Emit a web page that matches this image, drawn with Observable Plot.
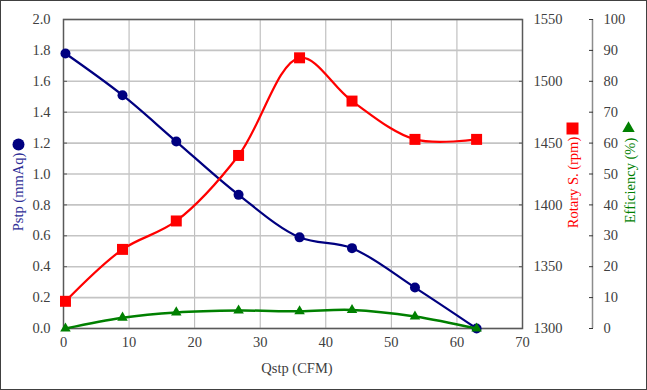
<!DOCTYPE html>
<html><head><meta charset="utf-8">
<script src="https://cdn.jsdelivr.net/npm/d3@7"></script>
<script src="https://cdn.jsdelivr.net/npm/@observablehq/plot@0.6"></script>
<style>
html,body{margin:0;padding:0;background:#fff;}
#chart svg{display:block;outline:1.5px solid #404040;outline-offset:-1.5px;}
#chart svg text{font-family:"Liberation Serif","DejaVu Serif",serif;}
</style></head><body><div id="chart"></div>
<script>
const qstp = [0.3, 9.0, 17.2, 26.7, 36.0, 44.0, 53.6, 63.0];
const pstp = [1.78, 1.51, 1.21, 0.865, 0.59, 0.52, 0.265, 0.0];
const rotary = [1322, 1364, 1387, 1440, 1519, 1484, 1453, 1453];
const efficiency = [0, 3.5, 5.2, 5.8, 5.6, 6.0, 3.9, 0];

const xTicks = [0, 10, 20, 30, 40, 50, 60, 70];
const pstpTicks = [0, 0.2, 0.4, 0.6, 0.8, 1.0, 1.2, 1.4, 1.6, 1.8, 2.0];
const rotaryTicks = [1300, 1350, 1400, 1450, 1500, 1550];
const effTicks = [0, 10, 20, 30, 40, 50, 60, 70, 80, 90, 100];

const xTitle = "Qstp (CFM)";
const pTitle = "Pstp (mmAq)";
const rTitle = "Rotary S. (rpm)";
const eTitle = "Efficiency (%)";

// map secondary axes onto the primary y domain [0, 2]
const rpmToY = v => (v - 1300) / 125;
const effToY = v => v / 50;

const rows = qstp.map((q, i) => ({q, p: pstp[i], r: rpmToY(rotary[i]), e: effToY(efficiency[i])}));
const xMax = d3.max(xTicks);
const FF = '"Liberation Serif", "DejaVu Serif", serif';

const plot = Plot.plot({
  width: 647, height: 390,
  marginLeft: 63, marginRight: 125, marginTop: 19, marginBottom: 62,
  style: {fontFamily: FF, fontSize: "14.5px", color: "#404040", background: "#fff"},
  x: {domain: [0, 70], axis: null, label: null},
  y: {domain: [0, 2], axis: null, label: null},
  marks: [
    Plot.gridX(xTicks, {stroke: "#b4b4b4", strokeOpacity: 1, strokeWidth: 1}),
    Plot.gridY(pstpTicks, {stroke: "#c4c4c4", strokeOpacity: 1, strokeWidth: 1.6}),
    Plot.frame({stroke: "#595959", strokeWidth: 1.5}),
    // left axis
    Plot.axisY(pstpTicks, {anchor: "left", label: null, tickSize: 0, tickPadding: 13, fontFamily: FF, tickFormat: d3.format(".1f")}),
    Plot.axisY(pstpTicks, {anchor: "left", label: null, tickSize: 4, dx: 4, fill: "none", stroke: "#595959"}),
    // right rpm axis
    Plot.axisY(rotaryTicks.map(rpmToY), {anchor: "right", label: null, tickSize: 0, tickPadding: 11, fontFamily: FF, tickFormat: d => String(Math.round(d * 125 + 1300))}),
    Plot.axisY(rotaryTicks.map(rpmToY), {anchor: "right", label: null, tickSize: 4, dx: -4, fill: "none", stroke: "#595959"}),
    // efficiency axis
    Plot.ruleX([xMax], {dx: 70, y1: 0, y2: 2, stroke: "#8c8c8c", strokeWidth: 1.5}),
    Plot.axisY(effTicks.map(effToY), {anchor: "right", label: null, dx: 66, tickSize: 4, tickPadding: 11, stroke: "#333", fontFamily: FF, tickFormat: d => String(Math.round(d * 50))}),
    // x axis
    Plot.axisX(xTicks, {anchor: "bottom", label: null, tickSize: 0, tickPadding: 8, fontFamily: FF, tickFormat: d => String(d)}),
    Plot.text([xTitle], {frameAnchor: "bottom", textAnchor: "middle", lineAnchor: "middle", dx: 4, dy: 40, fill: "#404040", fontFamily: FF}),
    // titles
    Plot.text([pTitle], {frameAnchor: "left", textAnchor: "middle", rotate: -90, dx: -45, dy: 18, fill: "#2e2e96", fontFamily: FF}),
    Plot.dot([pTitle], {frameAnchor: "left", dx: -45, dy: -29.5, r: 6, fill: "#000080"}),
    Plot.text([rTitle], {frameAnchor: "right", textAnchor: "middle", rotate: -90, dx: 51, dy: 8.5, fill: "#ff0000", fontFamily: FF}),
    Plot.dot([rTitle], {frameAnchor: "right", dx: 50, dy: -45.5, r: 6.77, symbol: "square", fill: "#ff0000"}),
    Plot.text([eTitle], {frameAnchor: "right", textAnchor: "middle", rotate: -90, dx: 107.5, dy: 6.5, fill: "#008000", fontFamily: FF}),
    Plot.dot([eTitle], {frameAnchor: "right", dx: 106, dy: -45.5, r: 4.6, symbol: "triangle", fill: "#008000"}),
    // series
    Plot.line(rows, {x: "q", y: "p", stroke: "#000080", strokeWidth: 2.2, curve: "catmull-rom"}),
    Plot.dot(rows, {x: "q", y: "p", fill: "#000080", r: 5, symbol: "circle"}),
    Plot.line(rows, {x: "q", y: "r", stroke: "#ff0000", strokeWidth: 2.2, curve: "catmull-rom"}),
    Plot.dot(rows, {x: "q", y: "r", fill: "#ff0000", r: 6.2, symbol: "square"}),
    Plot.line(rows, {x: "q", y: "e", stroke: "#008000", strokeWidth: 2.5, curve: "catmull-rom"}),
    Plot.dot(rows, {x: "q", y: "e", fill: "#008000", r: 3.9, symbol: "triangle"})
  ]
});
document.getElementById("chart").appendChild(plot);
</script></body></html>
